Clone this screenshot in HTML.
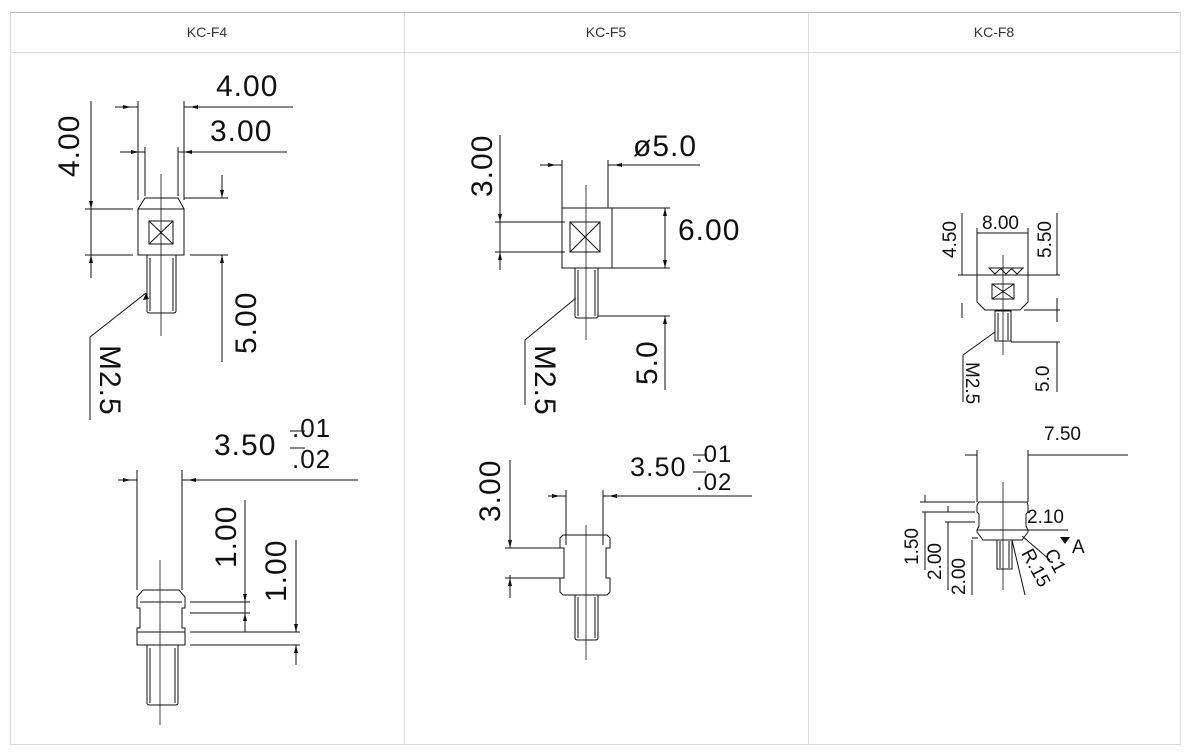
<!DOCTYPE html>
<html><head><meta charset="utf-8"><style>
html,body{margin:0;padding:0;background:#fff;}
svg{display:block}
text{font-family:"Liberation Sans",sans-serif;fill:#111}
.h{font-size:14px;fill:#333;text-anchor:middle}
.d{font-size:30px;font-weight:normal;letter-spacing:1px}
.s{font-size:19px}
</style></head><body>
<svg width="1189" height="752" viewBox="0 0 1189 752" xmlns="http://www.w3.org/2000/svg">
<g fill="none" stroke="#ddd" stroke-width="1">
<rect x="10.5" y="12.5" width="1170" height="732"/>
<line x1="10" y1="52.5" x2="1180" y2="52.5"/>
<line x1="404.5" y1="12" x2="404.5" y2="745"/>
<line x1="808.5" y1="12" x2="808.5" y2="745"/>
</g>
<line x1="10" y1="12.5" x2="1180" y2="12.5" stroke="#bbb"/>
<text class="h" x="207" y="37">KC-F4</text>
<text class="h" x="606" y="37">KC-F5</text>
<text class="h" x="994" y="37">KC-F8</text>

<g stroke="#111" stroke-width="1" fill="none">
<!-- KC-F4 top -->
<line x1="138" y1="101" x2="138" y2="200"/><line x1="184" y1="101" x2="184" y2="200"/>
<line x1="145" y1="147" x2="145" y2="196"/><line x1="178" y1="147" x2="178" y2="196"/>
<line x1="115" y1="107" x2="138" y2="107"/><line x1="184" y1="107" x2="293" y2="107"/>
<line x1="120" y1="152" x2="145" y2="152"/><line x1="178" y1="152" x2="287" y2="152"/>
<path d="M145 198 L178 198 L184 209 L138 209 Z"/>
<rect x="138" y="209" width="46" height="46"/>
<rect x="149" y="221" width="24" height="23"/><path d="M149 221 L173 244 M173 221 L149 244"/>
<path d="M147 255 V311 Q147 313 150 313 H173 Q176 313 176 311 V255 M150 258 V311 M173 258 V311"/>
<line x1="161" y1="174" x2="161" y2="336" stroke-width="0.8"/>
<line x1="91" y1="101" x2="91" y2="278"/>
<line x1="85" y1="209" x2="133" y2="209"/><line x1="85" y1="255" x2="133" y2="255"/>
<line x1="184" y1="198" x2="228" y2="198"/><line x1="222" y1="175" x2="222" y2="198"/>
<line x1="190" y1="255" x2="228" y2="255"/><line x1="222" y1="255" x2="222" y2="362"/>
<path d="M146 293 L90 337 V420"/>
<!-- KC-F4 bottom -->
<line x1="137" y1="470" x2="137" y2="590"/><line x1="182" y1="470" x2="182" y2="590"/>
<line x1="118" y1="480" x2="137" y2="480"/><line x1="182" y1="480" x2="358" y2="480"/>
<path d="M143 590 H179 L185 597 V608 H182 V628 H185 V645 H137 V628 H140 V608 H137 V597 Z"/>
<line x1="140" y1="602" x2="182" y2="602"/><line x1="137" y1="632" x2="185" y2="632"/>
<path d="M147 645 V703 Q147 705 150 705 H175 Q178 705 178 703 V645 M150 648 V703 M175 648 V703"/>
<line x1="160" y1="560" x2="160" y2="725" stroke-width="0.8"/>
<line x1="190" y1="602" x2="250" y2="602"/><line x1="190" y1="613" x2="250" y2="613"/>
<line x1="245" y1="500" x2="245" y2="632"/>
<line x1="190" y1="632" x2="300" y2="632"/><line x1="190" y1="645" x2="300" y2="645"/>
<line x1="296" y1="540" x2="296" y2="632"/><line x1="296" y1="645" x2="296" y2="665"/>
<line x1="290" y1="431" x2="305" y2="431"/><line x1="290" y1="448" x2="305" y2="448"/>

<!-- KC-F5 top -->
<line x1="562" y1="160" x2="562" y2="208"/><line x1="608" y1="160" x2="608" y2="208"/>
<line x1="540" y1="165" x2="562" y2="165"/><line x1="608" y1="165" x2="700" y2="165"/>
<rect x="562" y="208" width="50" height="60"/>
<rect x="570" y="222" width="30" height="30"/><path d="M570 222 L600 252 M600 222 L570 252"/>
<path d="M575 268 V316 Q575 318 578 318 H595 Q598 318 598 316 V268 M578 270 V316 M595 270 V316"/>
<line x1="586" y1="185" x2="586" y2="340" stroke-width="0.8"/>
<line x1="500" y1="135" x2="500" y2="270"/>
<line x1="495" y1="222" x2="565" y2="222"/><line x1="495" y1="252" x2="565" y2="252"/>
<line x1="612" y1="208" x2="670" y2="208"/><line x1="612" y1="268" x2="670" y2="268"/>
<line x1="665" y1="208" x2="665" y2="268"/>
<line x1="598" y1="316" x2="670" y2="316"/><line x1="665" y1="316" x2="665" y2="390"/>
<path d="M576 298 L525 340 V405"/>
<!-- KC-F5 bottom -->
<line x1="566" y1="490" x2="566" y2="545"/><line x1="603" y1="490" x2="603" y2="545"/>
<line x1="548" y1="496" x2="566" y2="496"/><line x1="603" y1="496" x2="752" y2="496"/>
<path d="M563 535 H607 L610 538 V548 H606 V578 H610 V592 L607 595 H563 L560 592 V578 H564 V548 H560 V538 Z"/>
<path d="M575 595 V638 Q575 640 578 640 H595 Q598 640 598 638 V595 M578 597 V638 M595 597 V638"/>
<line x1="586" y1="525" x2="586" y2="660" stroke-width="0.8"/>
<line x1="510" y1="460" x2="510" y2="548"/><line x1="510" y1="575" x2="510" y2="598"/>
<line x1="505" y1="548" x2="560" y2="548"/><line x1="505" y1="578" x2="560" y2="578"/>
<line x1="693" y1="455" x2="706" y2="455"/><line x1="693" y1="472" x2="706" y2="472"/>

<!-- KC-F8 top -->
<line x1="977" y1="228" x2="977" y2="275"/><line x1="1028" y1="228" x2="1028" y2="275"/>
<line x1="977" y1="233" x2="1028" y2="233"/>
<line x1="958" y1="275" x2="1060" y2="275"/>
<path d="M977 275 V302 L985 310 H1020 L1028 302 V275"/>
<rect x="992" y="284" width="22" height="15"/><path d="M992 284 L1014 299 M1014 284 L992 299"/>
<path d="M989 268 L995 274 L1001 268 Z M1000 268 L1006 274 L1012 268 Z M1011 268 L1017 274 L1023 268 Z"/>
<path d="M995 311 V341 H1011 V311 Z M998 313 V340 M1008 313 V340"/>
<line x1="1003" y1="255" x2="1003" y2="355" stroke-width="0.8"/>
<line x1="962" y1="213" x2="962" y2="275"/><line x1="1057" y1="213" x2="1057" y2="275"/>
<line x1="962" y1="303" x2="962" y2="318"/>
<line x1="1024" y1="310" x2="1060" y2="310"/><line x1="1011" y1="342" x2="1060" y2="342"/>
<line x1="1057" y1="298" x2="1057" y2="322"/><line x1="1057" y1="342" x2="1057" y2="392"/>
<path d="M995 332 L963 355 V402"/>
<!-- KC-F8 bottom -->
<line x1="977" y1="450" x2="977" y2="502"/><line x1="1028" y1="450" x2="1028" y2="502"/>
<line x1="965" y1="455" x2="977" y2="455"/><line x1="1028" y1="455" x2="1128" y2="455"/>
<path d="M979 502 H1027 L1028 505 V512 L1026 514 V526 L1028 530 V532 L1022 540 H983 L977 532 V530 L979 526 V514 L977 512 V505 Z"/>
<line x1="977" y1="530" x2="1068" y2="530"/>
<path d="M997 540 V569 H1012 V540 M1000 541 V568 M1009 541 V568"/>
<line x1="1003" y1="482" x2="1003" y2="590" stroke-width="0.8"/>
<line x1="920" y1="502" x2="975" y2="502"/><line x1="922" y1="512" x2="975" y2="512"/>
<line x1="945" y1="522" x2="975" y2="522"/><line x1="972" y1="538" x2="978" y2="538"/>
<line x1="925" y1="495" x2="925" y2="502"/><line x1="948" y1="506" x2="948" y2="512"/>
<line x1="925" y1="512" x2="925" y2="570"/><line x1="948" y1="522" x2="948" y2="590"/>
<line x1="972" y1="540" x2="972" y2="595"/>
<line x1="1012" y1="540" x2="1025" y2="595"/>
<line x1="1022" y1="536" x2="1050" y2="560"/>
</g>
<!-- arrows -->
<g fill="#111">
<path d="M131 107 l-8 -2 v4z M190 107 l8 -2 v4z M139 152 l-8 -2 v4z M184 152 l8 -2 v4z"/>
<path d="M91 209 l-2 -8 h4z M91 255 l-2 8 h4z M222 198 l-2 -8 h4z M222 255 l-2 8 h4z"/>
<path d="M146 293 l-3 7 l6 -1z"/>
<path d="M131 480 l-8 -2 v4z M188 480 l8 -2 v4z M245 602 l-2 -8 h4z M245 613 l-2 8 h4z M296 632 l-2 -8 h4z M296 645 l-2 8 h4z"/>
<path d="M556 165 l-8 -2 v4z M614 165 l8 -2 v4z M500 222 l-2 -8 h4z M500 252 l-2 8 h4z M665 208 l-2 8 h4z M665 268 l-2 -8 h4z M665 316 l-2 8 h4z"/>
<path d="M560 496 l-8 -2 v4z M609 496 l8 -2 v4z M510 548 l-2 -8 h4z M510 578 l-2 8 h4z"/>
<path d="M1060 537 h10 l-5 7z"/>
</g>
<!-- text -->
<text class="d" x="216" y="96">4.00</text>
<text class="d" x="210" y="141">3.00</text>
<text class="d" transform="translate(79,177) rotate(-90)">4.00</text>
<text class="d" transform="translate(256,292) rotate(-90) translate(-62,0)" text-anchor="start">5.00</text>
<text class="d" transform="translate(100,345) rotate(90)">M2.5</text>
<text class="d" x="214" y="455">3.50</text>
<text class="d" x="292" y="437" style="font-size:26px">.01</text>
<text class="d" x="292" y="468" style="font-size:26px">.02</text>
<text class="d" transform="translate(236,568) rotate(-90)">1.00</text>
<text class="d" transform="translate(286,602) rotate(-90)">1.00</text>

<text class="d" x="633" y="156">ø5.0</text>
<text class="d" transform="translate(492,197) rotate(-90)">3.00</text>
<text class="d" x="678" y="240">6.00</text>
<text class="d" transform="translate(657,385) rotate(-90)">5.0</text>
<text class="d" transform="translate(535,345) rotate(90)">M2.5</text>
<text class="d" x="630" y="476" style="font-size:27px">3.50</text>
<text class="d" x="696" y="462" style="font-size:24px">.01</text>
<text class="d" x="696" y="490" style="font-size:24px">.02</text>
<text class="d" transform="translate(500,522) rotate(-90)">3.00</text>

<text class="s" x="982" y="229">8.00</text>
<text class="s" transform="translate(956,258) rotate(-90)">4.50</text>
<text class="s" transform="translate(1051,258) rotate(-90)">5.50</text>
<text class="s" transform="translate(1049,392) rotate(-90)">5.0</text>
<text class="s" transform="translate(966,362) rotate(90)">M2.5</text>
<text class="s" x="1044" y="440">7.50</text>
<text class="s" x="1027" y="523">2.10</text>
<text class="s" transform="translate(918,565) rotate(-90)">1.50</text>
<text class="s" transform="translate(941,580) rotate(-90)">2.00</text>
<text class="s" transform="translate(965,595) rotate(-90)">2.00</text>
<text class="s" transform="translate(1021,553) rotate(62)">R.15</text>
<text class="s" transform="translate(1044,553) rotate(62)">C1</text>
<text x="1072" y="553" style="font-size:19px">A</text>
</svg>
</body></html>
